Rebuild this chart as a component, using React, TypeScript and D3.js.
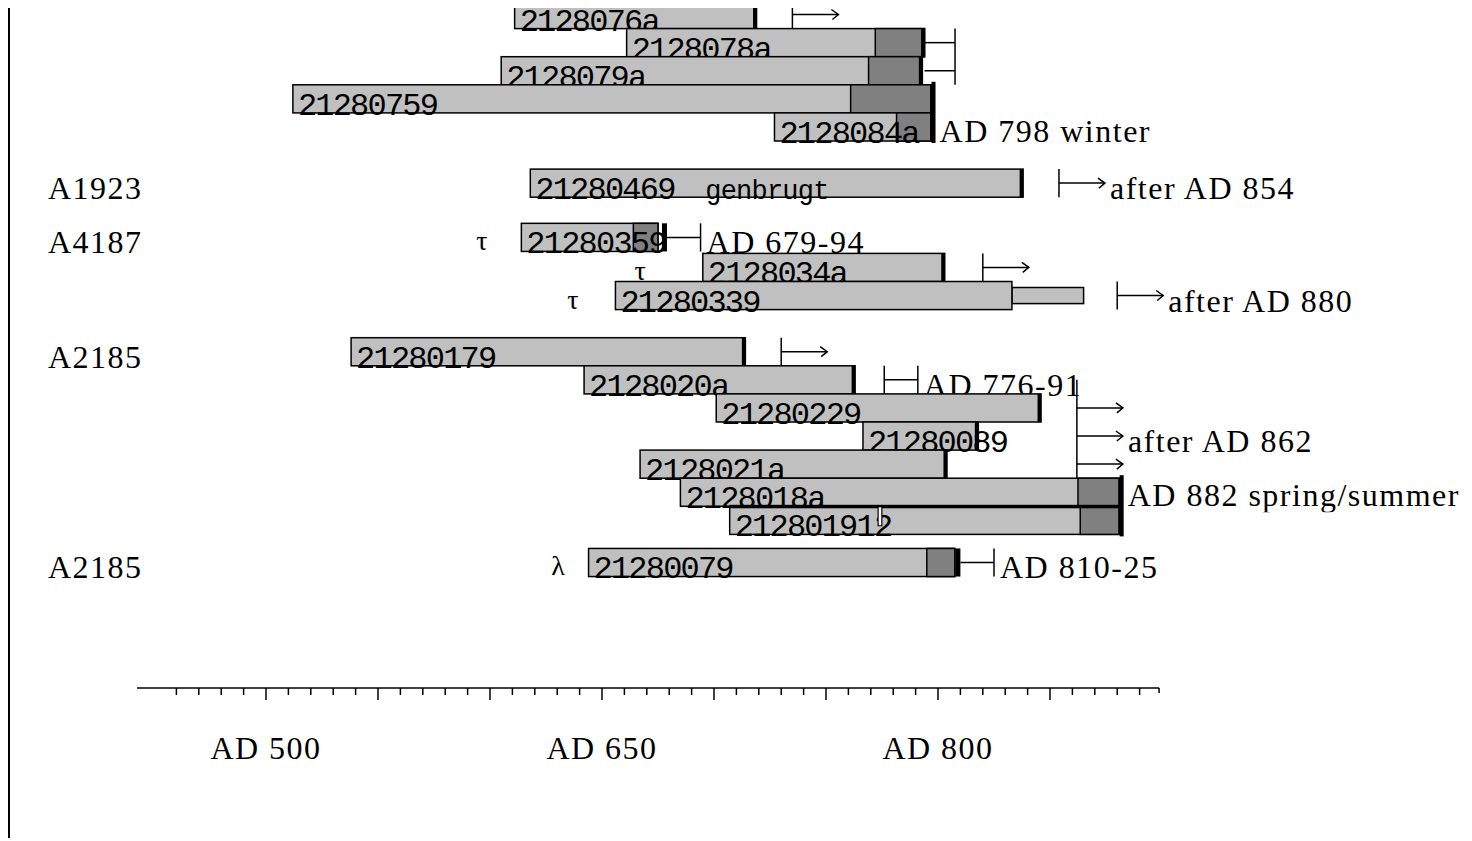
import React from "react";
import * as d3 from "d3";

const W = 1472;
const H = 841;

// ---- Data ----
const barIds = ["2128076a", "2128078a", "2128079a", "21280759", "2128084a", "21280469", "21280359", "2128034a", "21280339", "21280179", "2128020a", "21280229", "21280089", "2128021a", "2128018a", "212801912", "21280079"];
const barRows = [0, 1, 2, 3, 4, 6, 7.93, 9, 10, 12, 13, 14, 15, 16, 17, 18, 19.5];
const barStart = [611, 661, 605, 512, 727, 618, 614, 695, 656, 538, 642, 701, 766.5, 667, 685, 707, 644];
const barDarkStart: (number | null)[] = [null, 772, 769, 761, 781.5, null, 664, null, null, null, null, null, null, null, 862.5, 863.5, 795];
const barEnd = [719, 794, 793, 798, 798, 838, 675, 803, 833, 714, 763, 846, 818, 804, 882, 882, 807.5];
const barEndMark = [true, true, true, true, true, true, false, true, false, true, true, true, true, true, true, true, false];
const barExtension: (number | null)[] = [null, null, null, null, null, null, null, null, 865, null, null, null, null, null, null, null, null];
const barGap: ([number, number] | null)[] = [null, null, null, null, null, null, null, null, null, null, null, null, null, null, null, [773, 775.2], null];
const barJoinedAbove = [false, false, false, false, false, false, false, false, false, false, false, false, false, false, false, true, false];
const barNotes = ["", "", "", "", "", "genbrugt", "", "", "", "", "", "", "", "", "", "", ""];

const groupLabels = ["A1923", "A4187", "A2185", "A2185"];
const groupRows = [6, 7.93, 12, 19.5];

const markerSymbols = ["τ", "τ", "τ", "λ"];
const markerYears = [596.4, 667, 637, 630.4];
const markerRows = [7.93, 9, 10, 19.5];

const arrowRows = [0, 6, 9, 10, 12];
const arrowYears = [735, 854, 820, 880, 730];
const arrowLabels = ["", "after AD 854", "", "after AD 880", ""];

const groupArrowRows = [14, 15, 16];
const groupArrowYear = 862;
const groupArrowTopRow = 13;
const groupArrowLabel = "after AD 862";
const groupArrowLabelRow = 15;

const bracketRows = [[1, 2], [7.93], [13], [19.5]];
const bracketFrom = [794, 679, 776, 810];
const bracketTo = [807.6, 694, 791, 825];
const bracketLabels = ["", "AD 679-94", "AD 776-91", "AD 810-25"];
const bracketLeft = ["none", "thick", "thin", "thick"];

const felledYears = [798, 882];
const felledRows = [[3, 4], [17, 18]];
const felledLabels = ["AD 798 winter", "AD 882 spring/summer"];
const felledLabelRows = [4, 16.95];

const axisDomain = [442.4, 898.7];
const tickYears = d3.range(460, 891, 10);
const tickLabelYears = [500, 650, 800];

// ---- Scales ----
const x = d3.scaleLinear().domain([500, 800]).range([266, 938]);
const yRow = d3.scaleLinear().domain([0, 1]).range([0.5, 28.6]);
const BH = 28.1;

const LIGHT = "#c0c0c0";
const DARK = "#808080";
const SERIF = "'Liberation Serif', 'Times New Roman', serif";
const MONO = "'Liberation Mono', 'Courier New', monospace";
const serifText = { fontFamily: SERIF, fontSize: 32, letterSpacing: 1.5, fill: "#000" } as const;
const monoText = { fontFamily: MONO, fontSize: 32, letterSpacing: -1.8, fill: "#000" } as const;

function Arrow({ x0, y0, len = 46 }: { x0: number; y0: number; len?: number }) {
  const x1 = x0 + len;
  return (
    <g stroke="#000" strokeWidth={1.5} fill="none">
      <line x1={x0} y1={y0} x2={x1} y2={y0} />
      <path d={`M${x1 - 7},${y0 - 5} L${x1},${y0} L${x1 - 6},${y0 + 5}`} />
    </g>
  );
}

export default function App() {
  const rowsSorted = Array.from(new Set([...barRows])).sort((a, b) => a - b);

  const renderRow = (row: number) => {
    const els: React.ReactNode[] = [];
    barIds.forEach((id, i) => {
      if (barRows[i] !== row) return;
      const top = yRow(row);
      const xs = x(barStart[i]);
      const xe = x(barEnd[i]);
      const ext = barExtension[i];
      if (ext != null) {
        els.push(<rect key={id + "ext"} x={xe} y={top + 6} width={x(ext) - xe} height={BH - 12} fill={LIGHT} stroke="#000" strokeWidth={1.5} />);
      }
      els.push(<rect key={id + "b"} x={xs} y={top} width={xe - xs} height={BH} fill={LIGHT} stroke="#000" strokeWidth={1.5} />);
      const ds = barDarkStart[i];
      if (ds != null) {
        els.push(<rect key={id + "d"} x={x(ds)} y={top} width={xe - x(ds)} height={BH} fill={DARK} stroke="#000" strokeWidth={1.5} />);
      }
      if (barJoinedAbove[i]) {
        els.push(<rect key={id + "j"} x={xs} y={top - 1.5} width={xe - xs} height={3.5} fill="#000" />);
      }
      els.push(
        <text key={id + "t"} x={xs + 5} y={top + 30} style={monoText}>
          {id}
        </text>
      );
      if (barNotes[i]) {
        els.push(
          <text key={id + "n"} x={xs + 175} y={top + 30} style={{ fontFamily: MONO, fontSize: 27, letterSpacing: -0.8, fill: "#000" }}>
            {barNotes[i]}
          </text>
        );
      }
      const g = barGap[i];
      if (g) {
        const gx0 = x(g[0]);
        const gx1 = x(g[1]);
        els.push(
          <g key={id + "g"}>
            <rect x={gx0} y={top + 1} width={gx1 - gx0} height={19} fill="#000" />
            <rect x={gx0 + 1.2} y={top + 1} width={gx1 - gx0 - 2.4} height={18} fill="#fff" />
          </g>
        );
      }
      if (barEndMark[i]) {
        els.push(<rect key={id + "e"} x={xe - 3.5} y={top} width={3.5} height={BH} fill="#000" />);
      }
    });

    // markers
    markerSymbols.forEach((s, i) => {
      if (markerRows[i] !== row) return;
      els.push(
        <text key={"m" + i} x={x(markerYears[i])} y={yRow(row) + 27} textAnchor="middle" style={{ fontFamily: SERIF, fontSize: 28, fill: "#000" }}>
          {s}
        </text>
      );
    });

    // group labels
    groupLabels.forEach((l, i) => {
      if (groupRows[i] !== row) return;
      els.push(
        <text key={"gl" + i} x={48} y={yRow(row) + 30} style={serifText}>
          {l}
        </text>
      );
    });

    // arrows
    arrowRows.forEach((r, i) => {
      if (r !== row) return;
      const top = yRow(r);
      const ax = x(arrowYears[i]);
      els.push(
        <g key={"a" + i}>
          <line x1={ax} y1={top} x2={ax} y2={top + BH} stroke="#000" strokeWidth={1.5} />
          <Arrow x0={ax} y0={top + 14} />
          {arrowLabels[i] && (
            <text x={ax + 51} y={top + 30} style={serifText}>
              {arrowLabels[i]}
            </text>
          )}
        </g>
      );
    });

    // group arrow
    if (row === groupArrowRows[groupArrowRows.length - 1]) {
      const ax = x(groupArrowYear);
      els.push(
        <g key="ga">
          <line x1={ax} y1={yRow(groupArrowTopRow) + 14} x2={ax} y2={yRow(row) + BH} stroke="#000" strokeWidth={1.5} />
          {groupArrowRows.map((r) => (
            <Arrow key={r} x0={ax} y0={yRow(r) + 14} />
          ))}
          <text x={ax + 51} y={yRow(groupArrowLabelRow) + 30} style={serifText}>
            {groupArrowLabel}
          </text>
        </g>
      );
    }

    // brackets
    bracketRows.forEach((rs, i) => {
      if (rs[rs.length - 1] !== row) return;
      const x0 = x(bracketFrom[i]);
      const x1 = x(bracketTo[i]);
      const t0 = yRow(rs[0]);
      const b1 = yRow(rs[rs.length - 1]) + BH;
      els.push(
        <g key={"br" + i} stroke="#000" strokeWidth={1.5}>
          {rs.map((r) => (
            <line key={r} x1={x0} y1={yRow(r) + BH / 2} x2={x1} y2={yRow(r) + BH / 2} />
          ))}
          <line x1={x1} y1={t0} x2={x1} y2={b1} />
          {bracketLeft[i] === "thin" && <line x1={x0} y1={t0} x2={x0} y2={b1} />}
          {bracketLeft[i] === "thick" && <rect x={x0 - 5} y={t0} width={5} height={b1 - t0} fill="#000" stroke="none" />}
        </g>
      );
      if (bracketLabels[i]) {
        els.push(
          <text key={"brl" + i} x={x1 + 6} y={yRow(rs[0]) + 30} style={serifText}>
            {bracketLabels[i]}
          </text>
        );
      }
    });

    // felling dates
    felledRows.forEach((rs, i) => {
      if (rs[rs.length - 1] !== row) return;
      const fx = x(felledYears[i]);
      const y0 = yRow(rs[0]) - 3;
      const y1 = yRow(rs[rs.length - 1]) + BH + 2;
      els.push(<rect key={"f" + i} x={fx - 2} y={y0} width={4} height={y1 - y0} fill="#000" />);
      els.push(
        <g key={"fl" + i} clipPath={i === 1 ? "url(#labelclip)" : undefined}>
          <text x={fx + 6} y={yRow(felledLabelRows[i]) + 29} style={serifText}>
            {felledLabels[i]}
          </text>
        </g>
      );
    });

    return <g key={"row" + row}>{els}</g>;
  };

  const axisY = 688;

  return (
    <div style={{ position: "absolute", left: 0, top: 0, width: W, height: H, background: "#fff" }}>
      <svg width={W} height={H} viewBox={`0 0 ${W} ${H}`} style={{ display: "block" }}>
        <defs>
          <clipPath id="plotclip">
            <rect x={0} y={8} width={W} height={H - 8} />
          </clipPath>
          <clipPath id="labelclip">
            <rect x={0} y={0} width={W} height={yRow(18) + 6} />
          </clipPath>
        </defs>
        <rect x={0} y={0} width={W} height={H} fill="#fff" />
        <line x1={9} y1={8} x2={9} y2={838} stroke="#000" strokeWidth={2} />
        <g clipPath="url(#plotclip)">{rowsSorted.map((r) => renderRow(r))}</g>
        {/* axis */}
        <g stroke="#000" strokeWidth={1.5}>
          <line x1={x(axisDomain[0])} y1={axisY} x2={x(axisDomain[1])} y2={axisY} />
          {tickYears.map((t) => (
            <line key={t} x1={x(t)} y1={axisY} x2={x(t)} y2={axisY + (t % 50 === 0 ? 12 : 7)} />
          ))}
          <line x1={x(axisDomain[1])} y1={axisY} x2={x(axisDomain[1])} y2={axisY + 5} />
        </g>
        {tickLabelYears.map((t) => (
          <text key={t} x={x(t)} y={759} textAnchor="middle" style={serifText}>
            {"AD " + t}
          </text>
        ))}
      </svg>
    </div>
  );
}
